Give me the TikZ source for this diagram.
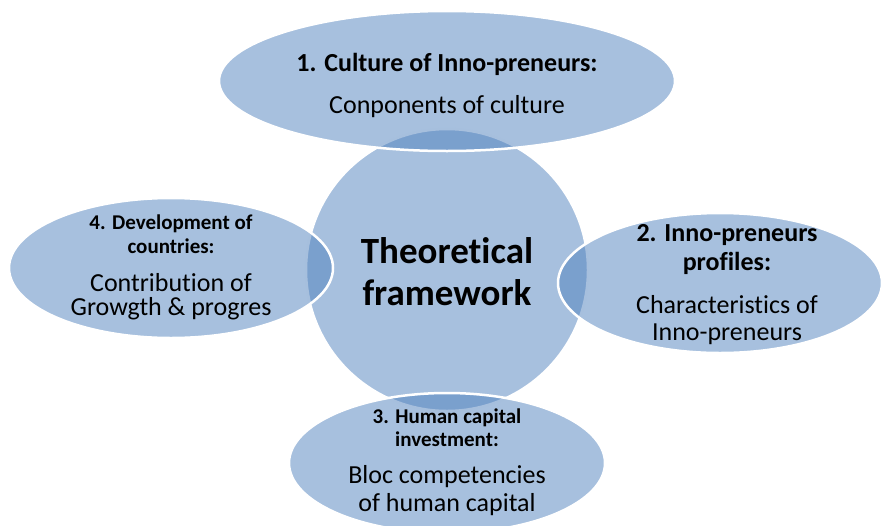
\documentclass[tikz,border=0pt]{standalone}
\usepackage{fontspec}
\setmainfont{Carlito}[Ligatures={NoCommon}]
\usetikzlibrary{shapes.geometric}

\definecolor{bubbleblue}{RGB}{79,129,189}

\tikzset{
  bubble/.style={ellipse, fill=bubbleblue, fill opacity=0.5, draw=white,
                 draw opacity=1, line width=2.5pt, inner sep=0pt},
  headtxt/.style={align=center, anchor=base, inner sep=0pt},
  bodytxt/.style={align=center, anchor=base, inner sep=0pt},
}

\begin{document}
\begin{tikzpicture}[x=1pt, y=-1pt]
  \useasboundingbox (0,0) rectangle (882,525);

  % centre circle first, the four bubbles lie over it
  \node[bubble, circle, minimum size=282pt] (core) at (447,270) {};
  \node[bubble, minimum width=456pt, minimum height=140pt] (culture) at (447,81) {};
  \node[bubble, minimum width=324pt, minimum height=140pt] (profiles) at (720,283) {};
  \node[bubble, minimum width=316pt, minimum height=140pt] (capital) at (447,463) {};
  \node[bubble, minimum width=324pt, minimum height=140pt] (growth) at (171,268) {};

  % centre (base = last line)
  \node[headtxt, font=\fontsize{37}{42}\selectfont\bfseries] (coretxt)
    at (447,305) {Theoretical\\framework};

  % 1. top
  \node[headtxt, font=\fontsize{26}{30}\selectfont\bfseries] (culturehead)
    at (447,71) {1. Culture of Inno-preneurs:};
  \node[bodytxt, font=\fontsize{26}{30}\selectfont] (culturebody)
    at (447,113) {Conponents of culture};

  % 2. right
  \node[headtxt, font=\fontsize{26}{29}\selectfont\bfseries] (profileshead)
    at (727,270) {2. Inno-preneurs\\profiles:};
  \node[bodytxt, font=\fontsize{26}{27}\selectfont] (profilesbody)
    at (727,340) {Characteristics of\\Inno-preneurs};

  % 3. bottom
  \node[headtxt, font=\fontsize{21}{23}\selectfont\bfseries] (capitalhead)
    at (447,446) {3. Human capital\\investment:};
  \node[bodytxt, font=\fontsize{26}{28}\selectfont] (capitalbody)
    at (447,511) {Bloc competencies\\of human capital};

  % 4. left
  \node[headtxt, font=\fontsize{21}{24}\selectfont\bfseries] (growthhead)
    at (171,253) {4. Development of\\countries:};
  \node[bodytxt, font=\fontsize{26}{24}\selectfont] (growthbody)
    at (171,315) {Contribution of\\Growgth \& progres};
\end{tikzpicture}
\end{document}
